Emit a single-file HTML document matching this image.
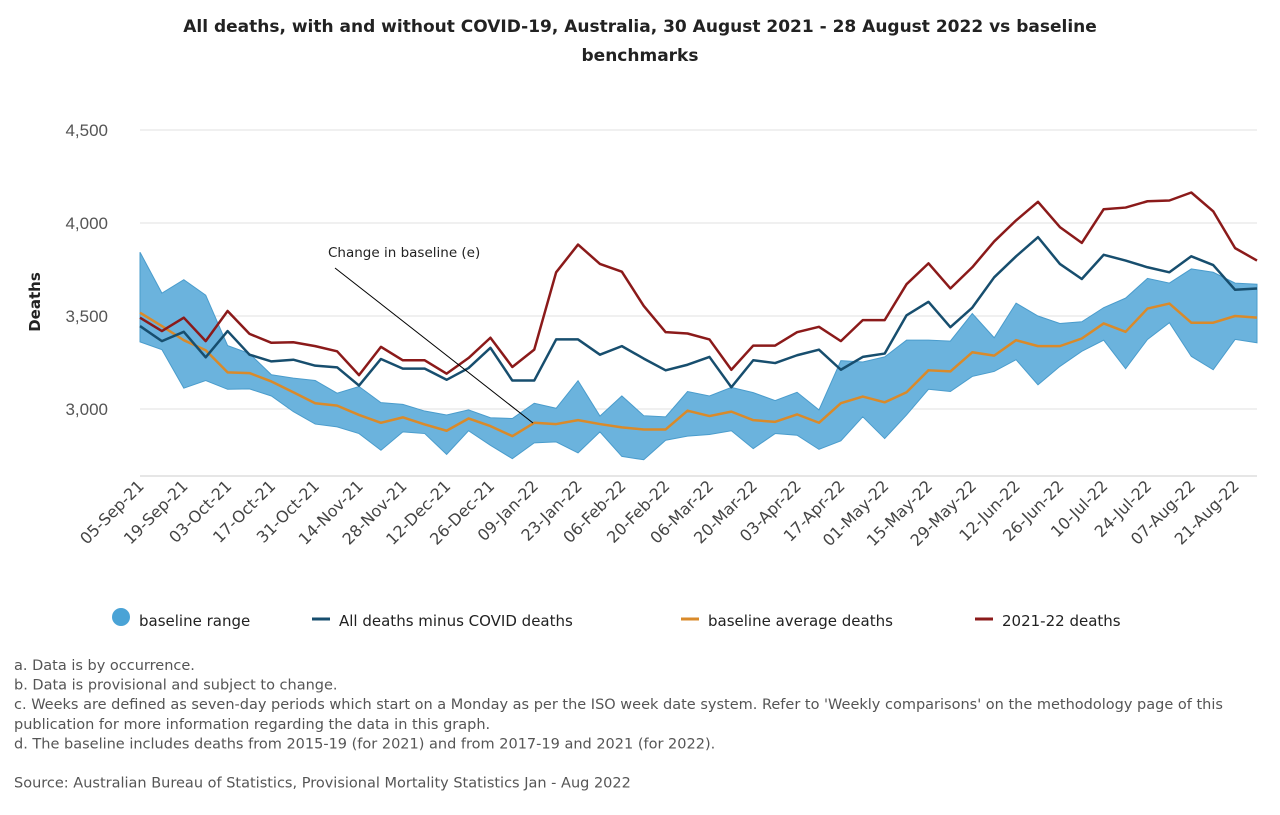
<!DOCTYPE html>
<html><head><meta charset="utf-8"><style>
body{margin:0;background:#fff;font-family:"Liberation Sans",sans-serif}
svg{display:block}
</style></head><body>
<svg width="1280" height="815" xmlns="http://www.w3.org/2000/svg">
<g id="root"></g>
</svg>
<script>
const categories=["05-Sep-21","12-Sep-21","19-Sep-21","26-Sep-21","03-Oct-21","10-Oct-21","17-Oct-21","24-Oct-21","31-Oct-21","07-Nov-21","14-Nov-21","21-Nov-21","28-Nov-21","05-Dec-21","12-Dec-21","19-Dec-21","26-Dec-21","02-Jan-22","09-Jan-22","16-Jan-22","23-Jan-22","30-Jan-22","06-Feb-22","13-Feb-22","20-Feb-22","27-Feb-22","06-Mar-22","13-Mar-22","20-Mar-22","27-Mar-22","03-Apr-22","10-Apr-22","17-Apr-22","24-Apr-22","01-May-22","08-May-22","15-May-22","22-May-22","29-May-22","05-Jun-22","12-Jun-22","19-Jun-22","26-Jun-22","03-Jul-22","10-Jul-22","17-Jul-22","24-Jul-22","31-Jul-22","07-Aug-22","14-Aug-22","21-Aug-22","28-Aug-22"];
const deaths2122=[3491,3419,3491,3365,3527,3404,3356,3359,3338,3310,3182,3334,3262,3262,3190,3274,3383,3226,3319,3735,3884,3780,3738,3554,3413,3406,3374,3211,3341,3341,3413,3442,3365,3478,3478,3671,3783,3648,3762,3901,4014,4114,3978,3893,4074,4083,4117,4121,4164,4063,3865,3798];
const minusCovid=[3446,3365,3415,3278,3419,3292,3256,3265,3233,3224,3126,3269,3217,3217,3157,3220,3329,3153,3153,3374,3374,3292,3338,3271,3208,3238,3280,3117,3262,3247,3289,3319,3211,3280,3298,3504,3576,3440,3545,3708,3821,3924,3780,3699,3829,3798,3762,3735,3821,3774,3641,3648];
const baselineAvg=[3518,3446,3370,3316,3197,3193,3148,3090,3031,3018,2968,2926,2955,2917,2883,2949,2908,2854,2926,2919,2940,2919,2901,2890,2890,2991,2962,2986,2940,2931,2971,2926,3031,3067,3036,3090,3208,3202,3305,3287,3370,3338,3338,3379,3460,3415,3540,3567,3464,3464,3500,3491];
const rangeUpper=[3843,3623,3695,3612,3341,3298,3184,3166,3153,3085,3121,3034,3025,2989,2968,2995,2953,2949,3031,3004,3152,2962,3070,2964,2958,3094,3070,3116,3088,3045,3090,2995,3260,3253,3280,3370,3370,3365,3513,3383,3569,3500,3460,3469,3545,3596,3702,3677,3753,3735,3677,3671];
const rangeLower=[3361,3319,3112,3153,3106,3108,3070,2986,2919,2904,2868,2778,2877,2868,2756,2883,2805,2733,2818,2823,2764,2877,2745,2727,2832,2854,2863,2883,2787,2868,2859,2783,2829,2958,2841,2968,3106,3094,3175,3202,3265,3130,3229,3310,3370,3217,3374,3464,3283,3211,3374,3356];
const yTicks=[3000,3500,4000,4500];
const yTickLabels=["3,000","3,500","4,000","4,500"];

const NS="http://www.w3.org/2000/svg";
const DJ='"DejaVu Sans","Liberation Sans",sans-serif';
const root=document.getElementById('root');
const x0=140,x1=1257;
function xs(i){return x0+i*(x1-x0)/(categories.length-1);}
function ys(v){return 409-(v-3000)*(279/1500);}
function mk(tag,attrs,parent){const e=document.createElementNS(NS,tag);for(const k in attrs)e.setAttribute(k,attrs[k]);(parent||root).appendChild(e);return e;}

let t=mk('text',{x:640,y:32,'text-anchor':'middle','font-size':17,'font-weight':'bold',fill:'#222','font-family':DJ});
t.textContent="All deaths, with and without COVID-19, Australia, 30 August 2021 - 28 August 2022 vs baseline";


t=mk('text',{x:640,y:61,'text-anchor':'middle','font-size':17,'font-weight':'bold',fill:'#222','font-family':DJ});
t.textContent="benchmarks";



yTicks.forEach((v,i)=>{
  const g=mk('line',{x1:x0,x2:x1,y1:ys(v),y2:ys(v),stroke:'#e0e0e0','stroke-width':1});
  
  
  const l=mk('text',{x:108,y:ys(v)+6,'text-anchor':'end','font-size':17,fill:'#555'});
  l.textContent=yTickLabels[i];
  
  
});
t=mk('text',{x:0,y:0,transform:'translate(40,302) rotate(-90)','text-anchor':'middle','font-size':15,'font-weight':'bold',fill:'#222','font-family':DJ});
t.textContent="Deaths";



const ax=mk('line',{x1:x0,x2:x1,y1:476,y2:476,stroke:'#ccc'});


categories.forEach((c,i)=>{
  if(i%2!==0)return;
  const l=mk('text',{x:0,y:0,transform:`translate(${xs(i)+5},487) rotate(-45)`,'text-anchor':'end','font-size':16,fill:'#444','font-family':DJ});
  l.textContent=c;
  
  
});

let d='M'+rangeUpper.map((v,i)=>xs(i)+','+ys(v)).join('L');
for(let i=rangeLower.length-1;i>=0;i--)d+='L'+xs(i)+','+ys(rangeLower[i]);
const area=mk('path',{d:d+'Z',fill:'#6bb3dd',stroke:'#4a9ccc','stroke-width':1});



function line(arr,color,name){
  const p=mk('path',{d:'M'+arr.map((v,i)=>xs(i)+','+ys(v)).join('L'),fill:'none',stroke:color,'stroke-width':2.5,'stroke-linejoin':'round'});
  
  
}
line(baselineAvg,'#d98a2a','baseline-average-line');
line(minusCovid,'#174e6e','minus-covid-line');
line(deaths2122,'#8b1a1a','deaths-2021-22-line');

const al=mk('line',{x1:335,y1:268,x2:533,y2:423,stroke:'#000','stroke-width':1});


t=mk('text',{x:328,y:257,'font-size':13.5,fill:'#222','font-family':DJ});
t.textContent="Change in baseline (e)";



const leg=[['baseline range','#4aa3d6',121,'circle'],['All deaths minus COVID deaths','#174e6e',312,'line'],['baseline average deaths','#d98a2a',681,'line'],['2021-22 deaths','#8b1a1a',975,'line']];
leg.forEach(([name,col,x,type])=>{
  const g=mk('g',{});
  
  
  if(type==='circle')mk('circle',{cx:x,cy:617,r:9,fill:col},g);
  else mk('line',{x1:x,x2:x+18,y1:619,y2:619,stroke:col,'stroke-width':3},g);
  const tt=mk('text',{x:type==='circle'?x+18:x+27,y:626,'font-size':15,fill:'#222','font-family':DJ},g);
  tt.textContent=name;
});

const notes=["a. Data is by occurrence.","b. Data is provisional and subject to change.","c. Weeks are defined as seven-day periods which start on a Monday as per the ISO week date system. Refer to 'Weekly comparisons' on the methodology page of this","publication for more information regarding the data in this graph.","d. The baseline includes deaths from 2015-19 (for 2021) and from 2017-19 and 2021 (for 2022).","","Source: Australian Bureau of Statistics, Provisional Mortality Statistics Jan - Aug 2022"];
notes.forEach((n,i)=>{
  if(!n)return;
  const tt=mk('text',{x:14,y:670+i*19.6,'font-size':14.5,fill:'#555','font-family':DJ});
  tt.textContent=n;
  
  
});
</script>
</body></html>
